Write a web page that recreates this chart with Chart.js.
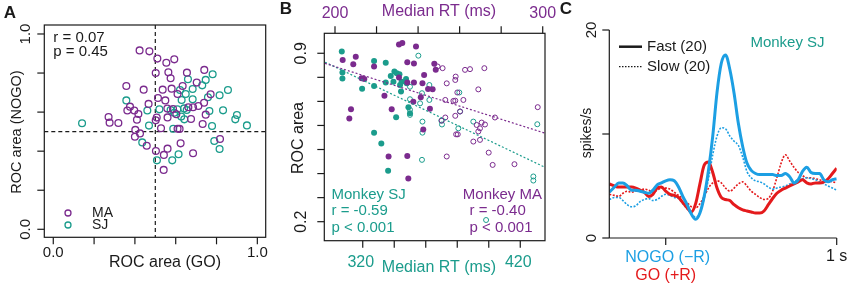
<!DOCTYPE html>
<html lang="en">
<head>
<meta charset="UTF-8">
<title>ROC area, RT and NOGO/GO responses</title>
<script src="https://cdn.jsdelivr.net/npm/chart.js"></script>
<style>
  body { margin: 0; background: #fff; }
  #wrap { position: relative; width: 850px; height: 287px; }
  #wrap canvas { position: absolute; left: 0; top: 0; }
</style>
</head>
<body>
<div id="wrap">
  <canvas id="chartA" width="850" height="287"></canvas>
  <canvas id="chartB" width="850" height="287"></canvas>
  <canvas id="chartC" width="850" height="287"></canvas>
</div>
<script>
// ---- panel A: ROC area GO vs NOGO ----
const maGo = [0.423,0.471,0.510,0.554,0.593,0.502,0.564,0.575,0.655,0.740,0.358,0.443,0.536,0.580,0.634,0.703,0.609,0.513,0.549,0.467,0.376,0.363,0.397,0.417,0.410,0.271,0.276,0.319,0.507,0.502,0.559,0.587,0.560,0.603,0.662,0.685,0.711,0.739,0.771,0.747,0.675,0.732,0.528,0.609,0.619,0.402,0.425,0.400,0.458,0.624,0.817,0.503,0.560,0.542,0.685,0.541];
const maNogo = [0.916,0.911,0.874,0.853,0.870,0.800,0.804,0.773,0.802,0.816,0.734,0.715,0.715,0.720,0.734,0.751,0.693,0.672,0.660,0.642,0.628,0.608,0.608,0.590,0.561,0.575,0.546,0.544,0.572,0.558,0.618,0.616,0.573,0.589,0.625,0.625,0.631,0.648,0.691,0.587,0.565,0.539,0.517,0.515,0.514,0.509,0.491,0.474,0.428,0.440,0.462,0.401,0.413,0.381,0.389,0.304];
const sjGo = [0.141,0.358,0.461,0.520,0.469,0.621,0.660,0.683,0.747,0.781,0.730,0.758,0.815,0.856,0.683,0.629,0.649,0.608,0.641,0.627,0.642,0.588,0.765,0.832,0.778,0.900,0.892,0.949,0.789,0.815,0.436,0.614,0.583,0.508,0.593,0.654,0.575];
const sjNogo = [0.543,0.660,0.608,0.614,0.531,0.713,0.768,0.718,0.765,0.794,0.737,0.676,0.686,0.713,0.666,0.662,0.693,0.614,0.619,0.577,0.563,0.515,0.606,0.609,0.529,0.585,0.563,0.532,0.452,0.411,0.445,0.384,0.353,0.353,0.597,0.611,0.611];
const rocTicks = [0, 0.2, 0.4, 0.6, 0.8, 1.0];
const rocTickLabels = ['0.0', '', '', '', '', '1.0'];

// ---- panel B: ROC area vs median RT ----
const maFastRT = [203.7,208.8,210.0,212.8,214.1,218.8,230.8,232.4,239.0,234.8,238.0,230.8,234.8,238.0,242.1,242.9,247.8,248.5,244.8,247.0,241.3,237.7,223.8,227.3,245.7,242.5,207.7,206.9,225.8,234.8,235.3];
const maFastROC = [0.872,0.854,0.886,0.796,0.793,0.845,0.936,0.943,0.928,0.863,0.858,0.799,0.778,0.778,0.775,0.810,0.856,0.831,0.752,0.750,0.717,0.699,0.723,0.667,0.669,0.583,0.667,0.629,0.471,0.473,0.379];
const maSlowRT = [249.4,251.8,253.8,258.1,257.9,262.6,265.0,271.9,258.9,257.9,261.8,253.1,257.0,260.2,257.9,253.1,251.4,269.0,268.2,270.6,272.2,269.8,269.0,266.6,269.8,258.3,259.1,277.0,274.0,275.9,286.4,253.8,297.6];
const maSlowROC = [0.845,0.838,0.775,0.803,0.789,0.831,0.834,0.838,0.737,0.703,0.706,0.706,0.702,0.658,0.640,0.633,0.620,0.750,0.602,0.612,0.604,0.588,0.575,0.533,0.540,0.563,0.563,0.633,0.487,0.436,0.439,0.471,0.676];
const sjFastRT = [306.7,307.1,307.1,319.6,327.2,327.2,334.6,334.6,337.8,340.1,341.6,343.3,344.7,344.3,347.5,347.9,349.0,350.0,341.2,327.2,331.8,336.1,343.7,339.5];
const sjFastROC = [0.907,0.820,0.795,0.753,0.868,0.764,0.861,0.778,0.806,0.824,0.817,0.813,0.782,0.741,0.793,0.775,0.676,0.651,0.634,0.570,0.525,0.412,0.768,0.782];
const sjSlowRT = [355.3,350.0,350.0,350.0,350.0,356.4,357.6,362.3,362.3,357.9,357.9,357.6,369.9,370.3,381.3,381.8,380.7,390.2,430.8,428.3,428.3,398.3];
const sjSlowROC = [0.890,0.761,0.709,0.665,0.644,0.692,0.734,0.768,0.706,0.616,0.570,0.457,0.620,0.604,0.737,0.658,0.588,0.616,0.605,0.388,0.371,0.207];
const maFitRT = [195.2, 301.1];
const maFitROC = [0.858, 0.568];
const sjFitRT = [296.1, 435.7];
const sjFitROC = [0.863, 0.426];
const maRTTicks = [200, 220, 240, 260, 280, 300];
const maRTLabels = ['200', '', '', '', '', '300'];
const sjRTTicks = [320, 340, 360, 380, 400, 420];
const sjRTLabels = ['320', '', '', '', '', '420'];
const bRocTicks = [0.2, 0.3, 0.4, 0.5, 0.6, 0.7, 0.8, 0.9];
const bRocLabels = ['0.2', '', '', '', '', '', '', '0.9'];

// ---- panel C: population activity, fast vs slow ----
const times = [-0.33,-0.3,-0.275,-0.25,-0.225,-0.2,-0.175,-0.15,-0.125,-0.1,-0.075,-0.05,-0.025,0,0.025,0.05,0.075,0.1,0.125,0.15,0.175,0.2,0.225,0.25,0.275,0.3,0.325,0.35,0.375,0.4,0.425,0.45,0.475,0.5,0.525,0.55,0.575,0.6,0.625,0.65,0.675,0.7,0.725,0.75,0.775,0.8,0.825,0.85,0.875,0.9,0.925,0.95,0.975,1.0];
const nogoFast = [4.4,4.9,5.3,5.3,5.0,4.6,4.6,4.5,4.4,4.3,4.6,5.1,5.3,5.5,5.6,5.5,4.9,4.0,3.2,2.3,1.8,2.4,4.0,6.5,9.8,14.0,16.8,17.6,16.2,13.9,11.0,8.8,7.2,6.5,6.2,6.1,6.1,6.1,6.1,6.0,6.0,6.2,5.9,5.3,5.6,6.4,6.8,6.3,6.2,6.2,5.6,5.4,5.6,5.7];
const nogoSlow = [3.7,3.9,3.9,3.6,3.2,3.0,3.1,3.5,3.7,3.8,3.6,3.7,4.0,4.2,4.1,3.9,3.8,3.3,2.8,2.3,2.0,2.4,3.8,5.7,8.0,9.8,10.6,10.5,9.8,9.3,8.9,7.8,6.4,5.8,5.5,5.4,5.2,4.9,4.7,4.8,4.9,5.0,5.2,5.4,5.6,5.7,5.8,5.7,5.6,5.4,5.2,5.0,4.8,4.6];
const goFast = [5.2,5.0,4.9,4.9,4.9,4.9,4.8,4.6,4.4,4.0,4.2,4.8,4.9,4.5,4.2,4.1,3.9,3.4,2.9,2.5,3.3,5.2,7.0,7.3,6.3,4.8,3.9,3.7,3.6,3.2,2.9,2.7,2.6,2.5,2.4,2.4,2.6,3.2,3.8,4.3,4.6,4.8,5.0,5.2,5.4,5.6,5.3,5.2,5.3,5.3,5.4,5.7,6.2,6.7];
const goSlow = [4.2,4.1,4.0,4.3,4.5,4.4,4.5,4.6,4.7,4.6,4.4,4.6,4.8,4.8,4.7,4.4,4.1,3.8,3.4,3.0,2.9,3.3,4.0,4.8,5.3,5.5,5.3,4.8,4.5,4.8,5.2,5.4,5.0,4.5,4.2,3.9,3.7,3.8,4.5,5.8,7.2,8.0,7.4,6.8,6.3,6.0,5.8,5.8,5.7,5.6,5.5,5.5,5.4,5.3];
const rateTicks = [0, 10, 20];
const rateLabels = ['0', '', '20'];
const timeTicks = [0, 1];

const FONT = "'Liberation Sans', Arial, sans-serif";
const PURPLE = '#7b2b8e';
const TEAL = '#1b9c8c';
const BLUE = '#1c9fe3';
const RED = '#e41a1c';
const INK = '#1a1a1a';

const zip = (xs, ys) => xs.map((x, i) => ({ x: x, y: ys[i] }));

function text(ctx, s, x, y, o) {
  o = o || {};
  ctx.save();
  ctx.font = (o.bold ? 'bold ' : '') + (o.size || 15) + 'px ' + FONT;
  ctx.fillStyle = o.color || INK;
  ctx.textAlign = o.align || 'center';
  ctx.textBaseline = 'middle';
  ctx.translate(x, y);
  if (o.rot) ctx.rotate(-Math.PI / 2);
  ctx.fillText(s, 0, 0);
  ctx.restore();
}

function line(ctx, x1, y1, x2, y2, w, color, dash) {
  ctx.save();
  ctx.strokeStyle = color || INK;
  ctx.lineWidth = w || 1;
  ctx.setLineDash(dash || []);
  ctx.beginPath();
  ctx.moveTo(x1, y1);
  ctx.lineTo(x2, y2);
  ctx.stroke();
  ctx.restore();
}

function box(ctx, a) {
  ctx.save();
  ctx.strokeStyle = INK;
  ctx.lineWidth = 1.2;
  ctx.strokeRect(a.left, a.top, a.right - a.left, a.bottom - a.top);
  ctx.restore();
}

function ticksX(ctx, scale, vals, yPix, len) {
  vals.forEach(v => {
    const px = scale.getPixelForValue(v);
    line(ctx, px, yPix, px, yPix + len, 1.2);
  });
}

function ticksY(ctx, scale, vals, xPix, len) {
  vals.forEach(v => {
    const py = scale.getPixelForValue(v);
    line(ctx, xPix, py, xPix - len, py, 1.2);
  });
}

const common = {
  responsive: false,
  animation: false,
  plugins: { legend: { display: false }, tooltip: { enabled: false } }
};

// ---------- A ----------
const panelA = {
  id: 'panelA',
  beforeDatasetsDraw(chart) {
    const { ctx, chartArea: a, scales: { x, y } } = chart;
    const mx = x.getPixelForValue(0.5), my = y.getPixelForValue(0.5);
    line(ctx, mx, a.top, mx, a.bottom, 1.2, INK, [4, 3]);
    line(ctx, a.left, my, a.right, my, 1.2, INK, [4, 3]);
  },
  afterDraw(chart) {
    const { ctx, chartArea: a, scales: { x, y } } = chart;
    box(ctx, a);
    ticksX(ctx, x, rocTicks, a.bottom, 7);
    ticksY(ctx, y, rocTicks, a.left, 7);
    rocTicks.forEach((v, i) => {
      if (!rocTickLabels[i]) return;
      text(ctx, rocTickLabels[i], x.getPixelForValue(v), a.bottom + 16, { size: 15 });
      text(ctx, rocTickLabels[i], a.left - 18, y.getPixelForValue(v), { size: 15, rot: true });
    });
    text(ctx, 'ROC area (GO)', (a.left + a.right) / 2 + 10, a.bottom + 25, { size: 16 });
    text(ctx, 'ROC area (NOGO)', 17, 132, { size: 14.5, rot: true });
    text(ctx, 'r = 0.07', a.left + 9, a.top + 13, { size: 15, align: 'left' });
    text(ctx, 'p = 0.45', a.left + 9, a.top + 27, { size: 15, align: 'left' });
    // legend
    [['MA', PURPLE, 213], ['SJ', TEAL, 225]].forEach(([lab, col, ly]) => {
      ctx.save();
      ctx.strokeStyle = col; ctx.lineWidth = 1.3;
      ctx.beginPath(); ctx.arc(68, ly, 3, 0, Math.PI * 2); ctx.stroke();
      ctx.restore();
      text(ctx, lab, 92, ly, { size: 14, align: 'left' });
    });
    text(ctx, 'A', 10, 13, { size: 17, bold: true });
  }
};

new Chart(document.getElementById('chartA'), {
  type: 'scatter',
  data: {
    datasets: [
      { label: 'MA', data: zip(maGo, maNogo), borderColor: PURPLE, backgroundColor: 'rgba(0,0,0,0)', pointRadius: 3.4, borderWidth: 1.3 },
      { label: 'SJ', data: zip(sjGo, sjNogo), borderColor: TEAL, backgroundColor: 'rgba(0,0,0,0)', pointRadius: 3.4, borderWidth: 1.3 }
    ]
  },
  options: {
    ...common,
    layout: { padding: { left: 44.3, right: 850 - 265.7, top: 25, bottom: 287 - 237.3 } },
    scales: {
      x: { type: 'linear', min: -0.044, max: 1.041, display: false },
      y: { type: 'linear', min: -0.041, max: 1.046, display: false }
    }
  },
  plugins: [panelA]
});

// ---------- B ----------
const panelB = {
  id: 'panelB',
  afterDraw(chart) {
    const { ctx, chartArea: a, scales } = chart;
    const xt = scales.xTop, xb = scales.xBot, y = scales.y;
    box(ctx, a);
    ticksX(ctx, xt, maRTTicks, a.top, -7);
    ticksX(ctx, xb, sjRTTicks, a.bottom, 7);
    ticksY(ctx, y, bRocTicks, a.left, 7);
    maRTTicks.forEach((v, i) => {
      if (maRTLabels[i]) text(ctx, maRTLabels[i], xt.getPixelForValue(v), 14, { size: 16, color: PURPLE });
    });
    sjRTTicks.forEach((v, i) => {
      if (sjRTLabels[i]) text(ctx, sjRTLabels[i], xb.getPixelForValue(v) - 2, 263, { size: 16, color: TEAL });
    });
    bRocTicks.forEach((v, i) => {
      if (bRocLabels[i]) text(ctx, bRocLabels[i], 302, y.getPixelForValue(v), { size: 16, rot: true });
    });
    text(ctx, 'Median RT (ms)', 439, 12, { size: 16, color: PURPLE });
    text(ctx, 'Median RT (ms)', 439, 268, { size: 16, color: TEAL });
    text(ctx, 'ROC area', 299, 138, { size: 16, rot: true });
    text(ctx, 'Monkey SJ', 331.5, 195, { size: 15, color: TEAL, align: 'left' });
    text(ctx, 'r = -0.59', 331.5, 211, { size: 15, color: TEAL, align: 'left' });
    text(ctx, 'p < 0.001', 331.5, 227.5, { size: 15, color: TEAL, align: 'left' });
    text(ctx, 'Monkey MA', 542, 195, { size: 15, color: PURPLE, align: 'right' });
    text(ctx, 'r = -0.40', 469.5, 211, { size: 15, color: PURPLE, align: 'left' });
    text(ctx, 'p < 0.001', 469.5, 227.5, { size: 15, color: PURPLE, align: 'left' });
    text(ctx, 'B', 286, 9, { size: 17, bold: true });
  }
};

new Chart(document.getElementById('chartB'), {
  type: 'scatter',
  data: {
    datasets: [
      { label: 'MA fit', type: 'line', data: zip(maFitRT, maFitROC), xAxisID: 'xTop', borderColor: PURPLE, borderWidth: 1.2, borderDash: [2, 2], pointRadius: 0, showLine: true, fill: false },
      { label: 'SJ fit', type: 'line', data: zip(sjFitRT, sjFitROC), xAxisID: 'xBot', borderColor: TEAL, borderWidth: 1.2, borderDash: [2, 2], pointRadius: 0, showLine: true, fill: false },
      { label: 'MA fast', data: zip(maFastRT, maFastROC), xAxisID: 'xTop', backgroundColor: PURPLE, borderColor: PURPLE, pointRadius: 3, borderWidth: 0 },
      { label: 'MA slow', data: zip(maSlowRT, maSlowROC), xAxisID: 'xTop', backgroundColor: 'rgba(0,0,0,0)', borderColor: PURPLE, pointRadius: 2.5, borderWidth: 1 },
      { label: 'SJ fast', data: zip(sjFastRT, sjFastROC), xAxisID: 'xBot', backgroundColor: TEAL, borderColor: TEAL, pointRadius: 3, borderWidth: 0 },
      { label: 'SJ slow', data: zip(sjSlowRT, sjSlowROC), xAxisID: 'xBot', backgroundColor: 'rgba(0,0,0,0)', borderColor: TEAL, pointRadius: 2.5, borderWidth: 1 }
    ]
  },
  options: {
    ...common,
    layout: { padding: { left: 324.3, right: 850 - 545, top: 33.3, bottom: 287 - 240.7 } },
    scales: {
      xTop: { type: 'linear', position: 'top', min: 194.85, max: 301.1, display: false },
      xBot: { type: 'linear', position: 'bottom', min: 295.6, max: 435.7, display: false },
      y: { type: 'linear', min: 0.121, max: 0.983, display: false }
    }
  },
  plugins: [panelB]
});

// ---------- C ----------
const panelC = {
  id: 'panelC',
  afterDraw(chart) {
    const { ctx, chartArea: a, scales: { x, y } } = chart;
    const y0 = y.getPixelForValue(0), y20 = y.getPixelForValue(20);
    const x1 = x.getPixelForValue(1);
    line(ctx, a.left, y20, a.left, y0, 1.2);
    line(ctx, a.left, y0, x1, y0, 1.2);
    ticksY(ctx, y, rateTicks, a.left, 7);
    ticksX(ctx, x, timeTicks, y0, 7);
    rateTicks.forEach((v, i) => {
      if (rateLabels[i]) text(ctx, rateLabels[i], 592, y.getPixelForValue(v), { size: 15, rot: true });
    });
    text(ctx, 'spikes/s', 587, 133, { size: 14, rot: true });
    text(ctx, 'NOGO (\u2212R)', x.getPixelForValue(0) + 2, 258, { size: 16, color: BLUE });
    text(ctx, 'GO (+R)', x.getPixelForValue(0), 276, { size: 16, color: RED });
    text(ctx, '1 s', x1, 257, { size: 16 });
    text(ctx, 'Monkey SJ', 787.5, 43, { size: 15, color: TEAL });
    line(ctx, 619, 46.7, 642, 46.7, 2.5, INK);
    line(ctx, 619, 66.7, 642, 66.7, 1.2, INK, [1.5, 1.5]);
    text(ctx, 'Fast (20)', 647, 46.7, { size: 15, align: 'left' });
    text(ctx, 'Slow (20)', 647, 66.7, { size: 15, align: 'left' });
    text(ctx, 'C', 566, 9, { size: 17, bold: true });
  }
};

const curve = (label, vals, color, solid, order) => ({
  label: label,
  data: zip(times, vals),
  borderColor: color,
  borderWidth: solid ? 3 : 1.6,
  borderDash: solid ? [] : [2, 1.5],
  pointRadius: 0,
  fill: false,
  cubicInterpolationMode: 'monotone',
  order: order
});

new Chart(document.getElementById('chartC'), {
  type: 'line',
  data: {
    datasets: [
      curve('NOGO fast', nogoFast, BLUE, true, 0),
      curve('GO fast', goFast, RED, true, 1),
      curve('NOGO slow', nogoSlow, BLUE, false, 2),
      curve('GO slow', goSlow, RED, false, 3)
    ]
  },
  options: {
    ...common,
    layout: { padding: { left: 609.3, right: 850 - 836.7, top: 30, bottom: 287 - 238 } },
    scales: {
      x: { type: 'linear', min: -0.33, max: 1.0, display: false },
      y: { type: 'linear', min: 0, max: 20, display: false }
    }
  },
  plugins: [panelC]
});
</script>
</body>
</html>
